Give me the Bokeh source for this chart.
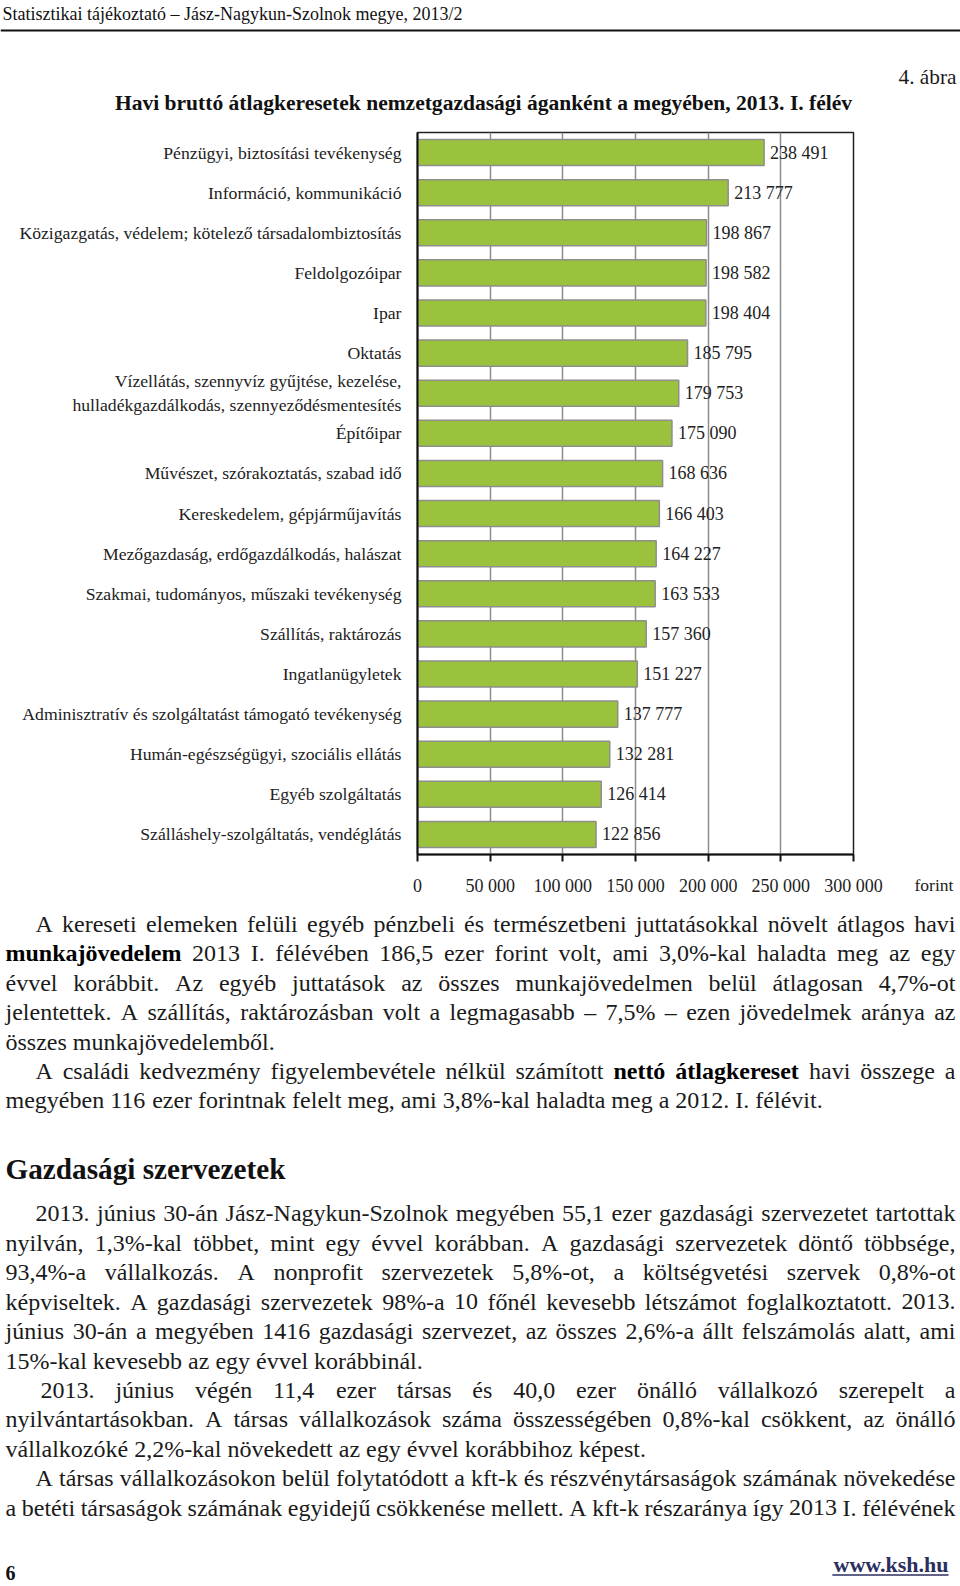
import unicodedata
from bokeh.plotting import figure
from bokeh.models import Range1d, FactorRange, ColumnDataSource
from bokeh.layouts import column, row
from bokeh.embed import file_html
from bokeh.resources import INLINE
from bokeh.core.properties import value

# ---------------- data ----------------
categories = [
    "Pénzügyi, biztosítási tevékenység",
    "Információ, kommunikáció",
    "Közigazgatás, védelem; kötelező társadalombiztosítás",
    "Feldolgozóipar",
    "Ipar",
    "Oktatás",
    "Vízellátás, szennyvíz gyűjtése, kezelése,\nhulladékgazdálkodás, szennyeződésmentesítés",
    "Építőipar",
    "Művészet, szórakoztatás, szabad idő",
    "Kereskedelem, gépjárműjavítás",
    "Mezőgazdaság, erdőgazdálkodás, halászat",
    "Szakmai, tudományos, műszaki tevékenység",
    "Szállítás, raktározás",
    "Ingatlanügyletek",
    "Adminisztratív és szolgáltatást támogató tevékenység",
    "Humán-egészségügyi, szociális ellátás",
    "Egyéb szolgáltatás",
    "Szálláshely-szolgáltatás, vendéglátás",
]
values = [238491, 213777, 198867, 198582, 198404, 185795, 179753, 175090,
          168636, 166403, 164227, 163533, 157360, 151227, 137777, 132281,
          126414, 122856]
tick_values = [0, 50000, 100000, 150000, 200000, 250000, 300000]
tick_labels = ["0", "50 000", "100 000", "150 000", "200 000", "250 000", "300 000"]

header_text = "Statisztikai tájékoztató – Jász-Nagykun-Szolnok megye, 2013/2"
figure_no = "4. ábra"
chart_title = "Havi bruttó átlagkeresetek nemzetgazdasági áganként a megyében, 2013. I. félév"
unit_label = "forint"
section_title = "Gazdasági szervezetek"
page_no = "6"
site = "www.ksh.hu"

# words wrapped in * are bold
block1_lines = [
    "A kereseti elemeken felüli egyéb pénzbeli és természetbeni juttatásokkal növelt átlagos havi",
    "*munkajövedelem* 2013 I. félévében 186,5 ezer forint volt, ami 3,0%-kal haladta meg az egy",
    "évvel korábbit. Az egyéb juttatások az összes munkajövedelmen belül átlagosan 4,7%-ot",
    "jelentettek. A szállítás, raktározásban volt a legmagasabb – 7,5% – ezen jövedelmek aránya az",
    "összes munkajövedelemből.",
    "A családi kedvezmény figyelembevétele nélkül számított *nettó* *átlagkereset* havi összege a",
    "megyében 116 ezer forintnak felelt meg, ami 3,8%-kal haladta meg a 2012. I. félévit.",
]
block1_indent = [1, 0, 0, 0, 0, 1, 0]
block1_just = [1, 1, 1, 1, 0, 1, 0]

block2_lines = [
    "2013. június 30-án Jász-Nagykun-Szolnok megyében 55,1 ezer gazdasági szervezetet tartottak",
    "nyilván, 1,3%-kal többet, mint egy évvel korábban. A gazdasági szervezetek döntő többsége,",
    "93,4%-a vállalkozás. A nonprofit szervezetek 5,8%-ot, a költségvetési szervek 0,8%-ot",
    "képviseltek. A gazdasági szervezetek 98%-a 10 főnél kevesebb létszámot foglalkoztatott. 2013.",
    "június 30-án a megyében 1416 gazdasági szervezet, az összes 2,6%-a állt felszámolás alatt, ami",
    "15%-kal kevesebb az egy évvel korábbinál.",
    "2013. június végén 11,4 ezer társas és 40,0 ezer önálló vállalkozó szerepelt a",
    "nyilvántartásokban. A társas vállalkozások száma összességében 0,8%-kal csökkent, az önálló",
    "vállalkozóké 2,2%-kal növekedett az egy évvel korábbihoz képest.",
    "A társas vállalkozásokon belül folytatódott a kft-k és részvénytársaságok számának növekedése",
    "a betéti társaságok számának egyidejű csökkenése mellett. A kft-k részaránya így 2013 I. félévének",
]
block2_indent = [1, 0, 0, 0, 0, 0, 2, 0, 0, 1, 0]
block2_just = [1, 1, 1, 1, 1, 0, 1, 1, 0, 1, 1]

# ---------------- approximate Times metrics (1/1000 em) ----------------
_low = "abcdefghijklmnopqrstuvwxyz"
_up = "ABCDEFGHIJKLMNOPQRSTUVWXYZ"
REG = dict(zip(_low, [444, 500, 444, 500, 444, 333, 500, 500, 278, 278, 500, 278, 778,
                      500, 500, 500, 500, 333, 389, 278, 500, 500, 722, 500, 500, 444]))
REG.update(zip(_up, [722, 667, 667, 722, 611, 556, 722, 722, 333, 389, 722, 611, 889,
                     722, 722, 556, 722, 667, 556, 611, 722, 722, 944, 722, 722, 611]))
REG.update({c: 500 for c in "0123456789"})
REG.update({" ": 250, ",": 250, ".": 250, "-": 333, "%": 833, "–": 500, "/": 278, ";": 278, ":": 278})
BOLD = dict(zip(_low, [500, 556, 444, 556, 444, 333, 500, 556, 278, 333, 556, 278, 833,
                       556, 500, 556, 556, 444, 389, 333, 556, 500, 722, 500, 500, 444]))
BOLD.update(zip(_up, [722, 667, 722, 722, 667, 611, 778, 778, 389, 500, 778, 667, 944,
                      722, 778, 611, 778, 722, 556, 667, 722, 722, 1000, 722, 722, 667]))
BOLD.update({c: 500 for c in "0123456789"})
BOLD.update({" ": 250, ",": 250, ".": 250, "-": 333, "%": 1000, "–": 500, "/": 278, ";": 333, ":": 333})


def em_width(s, bold=False):
    tab = BOLD if bold else REG
    tot = 0
    for ch in s:
        if ch in tab:
            tot += tab[ch]
        else:
            tot += tab.get(unicodedata.normalize("NFD", ch)[0], 500)
    return tot / 1000.0


FONT = "Liberation Serif"
INK = "#1a1a1a"
W = 960
H_TOP, H_CHART, H_TEXT = 120, 780, 686
CHART_W = 889


def page_fig(w, h):
    f = figure(width=w, height=h, x_range=Range1d(0, w), y_range=Range1d(h, 0),
               x_axis_type=None, y_axis_type=None, output_backend="svg",
               toolbar_location=None, min_border=0, frame_align=False)
    f.grid.visible = False
    f.outline_line_color = None
    f.background_fill_color = "white"
    f.border_fill_color = "white"
    return f


def put(f, x, y, txt, size, bold=False, align="left", color=INK, baseline="middle"):
    f.text(x=[x], y=[y], text=[txt], text_font=value(FONT), text_font_size=f"{size:.2f}px",
           text_font_style="bold" if bold else "normal", text_align=align,
           text_baseline=baseline, text_color=color)


# ---------------- top: header + title ----------------
top = page_fig(W, H_TOP)
put(top, 2, 13, header_text, 18, color="#111111")
top.segment(x0=[0], y0=[30], x1=[W], y1=[30], line_color="#111111", line_width=2)
fs = 58 / em_width(figure_no)
put(top, 956, 76, figure_no, fs, align="right")
ts = 738 / em_width(chart_title, True)
put(top, 483, 102, chart_title, ts, bold=True, align="center", color="#111111")

# ---------------- chart ----------------
src = ColumnDataSource(dict(cat=categories, val=values,
                            lab=[f"{v:,}".replace(",", " ") for v in values]))
pc = figure(width=CHART_W, height=H_CHART, x_range=Range1d(0, 300000),
            y_range=FactorRange(factors=list(reversed(categories))),
            output_backend="svg", toolbar_location=None, frame_align=False,
            min_border_left=417, min_border_right=CHART_W - 417 - 436,
            min_border_top=12, min_border_bottom=46)
pc.background_fill_color = "white"
pc.border_fill_color = "white"
pc.outline_line_color = "#222222"
pc.outline_line_width = 1.5
pc.hbar(y="cat", left=0, right="val", height=0.65, source=src,
        fill_color="#9bc23d", line_color="#8e8e8e", line_width=1.5)
pc.text(x="val", y="cat", text="lab", source=src, x_offset=6, text_baseline="middle",
        text_font=value(FONT), text_font_size="18px", text_color="#222222")

pc.xaxis.ticker = tick_values
pc.xaxis.major_label_overrides = {t: l for t, l in zip(tick_values, tick_labels)}
pc.xgrid.grid_line_color = "#8c8c8c"
pc.xgrid.grid_line_width = 1.5
pc.ygrid.visible = False
for ax in (pc.xaxis, pc.yaxis):
    ax.axis_line_color = "#111111"
    ax.axis_line_width = 2
    ax.major_label_text_font = FONT
    ax.major_label_text_color = "#222222"
    ax.minor_tick_line_color = None
pc.xaxis.major_tick_line_color = "#111111"
pc.xaxis.major_tick_line_width = 2
pc.xaxis.major_tick_out = 7
pc.xaxis.major_tick_in = 0
pc.xaxis.major_label_standoff = 14
pc.xaxis.major_label_text_font_size = "18px"
pc.yaxis.major_tick_line_color = None
pc.yaxis.major_tick_out = 0
pc.yaxis.major_tick_in = 0
pc.yaxis.major_label_standoff = 16
pc.yaxis.major_label_text_font_size = "17.7px"

# unit label to the right of the axis
side = page_fig(W - CHART_W, H_CHART)
put(side, 914 - CHART_W, 884 - 120, unit_label, 17.5, color="#222222")

# ---------------- text block ----------------
tx = page_fig(W, H_TEXT)
LEFT, RIGHT = 5.0, 955.0
INDENTS = {0: 0.0, 1: 30.0, 2: 35.0}


def parse(line):
    out = []
    for w in line.split():
        if w.startswith("*") and w.endswith("*"):
            out.append((w.strip("*"), True))
        else:
            out.append((w, False))
    return out


all_lines = [(l, i, j) for l, i, j in zip(block1_lines, block1_indent, block1_just)] + \
            [(l, i, j) for l, i, j in zip(block2_lines, block2_indent, block2_just)]
fits = []
for l, ind, just in all_lines:
    if just:
        words = parse(l)
        ew = sum(em_width(w, b) for w, b in words)
        fits.append((RIGHT - LEFT - INDENTS[ind]) / (ew + 0.2 * (len(words) - 1)))
BS = min(24.0, min(fits))

reg = dict(x=[], y=[], t=[])
bld = dict(x=[], y=[], t=[])


def lay(lines, indents, justs, y0, pitch):
    for k, (l, ind, just) in enumerate(zip(lines, indents, justs)):
        words = parse(l)
        wd = [em_width(w, b) * BS for w, b in words]
        x = LEFT + INDENTS[ind]
        gap = (RIGHT - x - sum(wd)) / (len(words) - 1) if just and len(words) > 1 else 0.25 * BS
        y = y0 + k * pitch
        for (w, b), ww in zip(words, wd):
            d = bld if b else reg
            d["x"].append(x)
            d["y"].append(y)
            d["t"].append(w)
            x += ww + gap


lay(block1_lines, block1_indent, block1_just, 23.6, 29.35)
lay(block2_lines, block2_indent, block2_just, 312.9, 29.44)
tx.text(x=reg["x"], y=reg["y"], text=reg["t"], text_font=value(FONT),
        text_font_size=f"{BS:.2f}px", text_baseline="middle", text_color=INK)
tx.text(x=bld["x"], y=bld["y"], text=bld["t"], text_font=value(FONT),
        text_font_size=f"{BS:.2f}px", text_font_style="bold", text_baseline="middle",
        text_color="#000000")

ss = 280 / em_width(section_title, True)
put(tx, 5, 268.4, section_title, ss, bold=True, color="#111111")
put(tx, 5, 672, page_no, 20, bold=True, color="#111111")
ws = 22
put(tx, 948, 664, site, ws, bold=True, align="right", color="#2b2f5f")
tx.segment(x0=[948 - em_width(site, True) * ws], y0=[674.5], x1=[948], y1=[674.5],
           line_color="#2b2f5f", line_width=1.5)

page = column(top, row(pc, side, spacing=0), tx, spacing=0)
open("out.html", "w").write(file_html(page, INLINE))
